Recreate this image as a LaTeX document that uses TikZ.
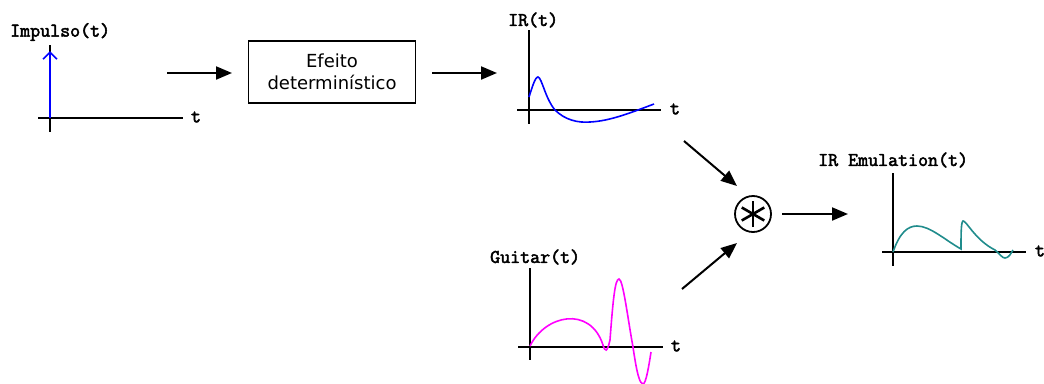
\documentclass[tikz,border=0pt]{standalone}
\usepackage{fontspec}
\setmainfont{DejaVu Sans}
\newfontfamily\lblfont{Latin Modern Mono}[FakeBold=2.6]
\usetikzlibrary{arrows.meta,positioning}
\definecolor{cimp}{RGB}{0,0,255}
\definecolor{cgtr}{RGB}{255,0,255}
\definecolor{cemu}{RGB}{32,140,140}

\begin{document}
\begin{tikzpicture}[
  x=1pt,y=-1pt,
  ttl/.style={anchor=west,inner sep=0pt,font=\lblfont\fontsize{19.4}{22}\selectfont},
  tlab/.style={inner sep=0pt,font=\lblfont\fontsize{19.4}{22}\selectfont},
  blk/.style={draw,line width=1.3pt,minimum width=167pt,minimum height=62pt,align=center,
    font=\fontsize{18}{22}\selectfont},
  axis/.style={line width=1.6pt},
  sig/.style={line width=1.6pt},
  arrow/.style={-{Triangle[length=16pt,width=13pt]},line width=2pt}
]
\useasboundingbox (0,0) rectangle (1044,383);

% ---- titles ----
\node[ttl] (timp) at (10,32) {Impulso(t)};
\node[ttl] (tir) at (508,20) {IR(t)};
\node[ttl] (tgtr) at (490,257) {Guitar(t)};
\node[ttl] (temu) at (818,160) {IR Emulation(t)};

% ---- impulse ----
\draw[axis] (50,45) -- (50,132);
\draw[axis] (38,118) -- (183,118);
\node[tlab] (ximp) at (196,117) {t};
\draw[line width=1.6pt,cimp,-{Straight Barb[length=7pt,width=14pt]}] (50,118) -- (50,51);

% ---- block ----
\node[blk] (box) at (332,72) {Efeito\\determinístico};
\coordinate (a1s) at (167,73);
\coordinate (a1e) at (232,73);
\coordinate (a2s) at (432,73);
\coordinate (a2e) at (497,73);
\draw[arrow] (a1s) -- (a1e);
\draw[arrow] (a2s) -- (a2e);

% ---- IR ----
\draw[axis] (529,30) -- (529,124);
\draw[axis] (517,110) -- (661,110);
\node[tlab] (xir) at (675,109) {t};
\draw[sig,cimp] (529,97) .. controls (532,88) and (535,77) .. (538,77)
  .. controls (542,78) and (545,98) .. (555,110)
  .. controls (565,120) and (578,123) .. (590,122)
  .. controls (610,121) and (630,113) .. (654,104);

% ---- convolution ----
\node[draw,circle,line width=1.8pt,minimum size=36pt,inner sep=0pt] (conv) at (753,214) {};
\foreach \a in {90,30,150} {
  \draw[line width=2.6pt] (conv.center) ++(\a:13) -- ++(\a+180:26);
}
\coordinate (a3s) at (684,141);
\coordinate (a3e) at (737,186);
\coordinate (a4s) at (682,289);
\coordinate (a4e) at (737,243);
\coordinate (a5s) at (782,214);
\coordinate (a5e) at (848,214);
\draw[arrow] (a3s) -- (a3e);
\draw[arrow] (a4s) -- (a4e);
\draw[arrow] (a5s) -- (a5e);

% ---- guitar ----
\draw[axis] (530,268) -- (530,360);
\draw[axis] (518,347) -- (663,347);
\node[tlab] (xgtr) at (676,346) {t};
\draw[sig,cgtr] (530,346) .. controls (545,315) and (590,305) .. (603,345)
  .. controls (605,352) and (607,353) .. (610,340)
  .. controls (613,300) and (615,279) .. (619,279)
  .. controls (623,279) and (628,320) .. (633,347)
  .. controls (637,375) and (640,384) .. (643,384)
  .. controls (646,384) and (649,365) .. (651,352);

% ---- emulation ----
\draw[axis] (893,173) -- (893,266);
\draw[axis] (882,252) -- (1026,252);
\node[tlab] (xemu) at (1040,251) {t};
\draw[sig,cemu] (893,252) .. controls (900,232) and (908,226) .. (917,226)
  .. controls (930,226) and (945,240) .. (961,249)
  .. controls (961,235) and (961,222) .. (963,221)
  .. controls (966,220) and (975,240) .. (995,250)
  .. controls (1000,254) and (1002,258) .. (1005,258)
  .. controls (1009,258) and (1011,253) .. (1013,250);
\end{tikzpicture}
\end{document}
